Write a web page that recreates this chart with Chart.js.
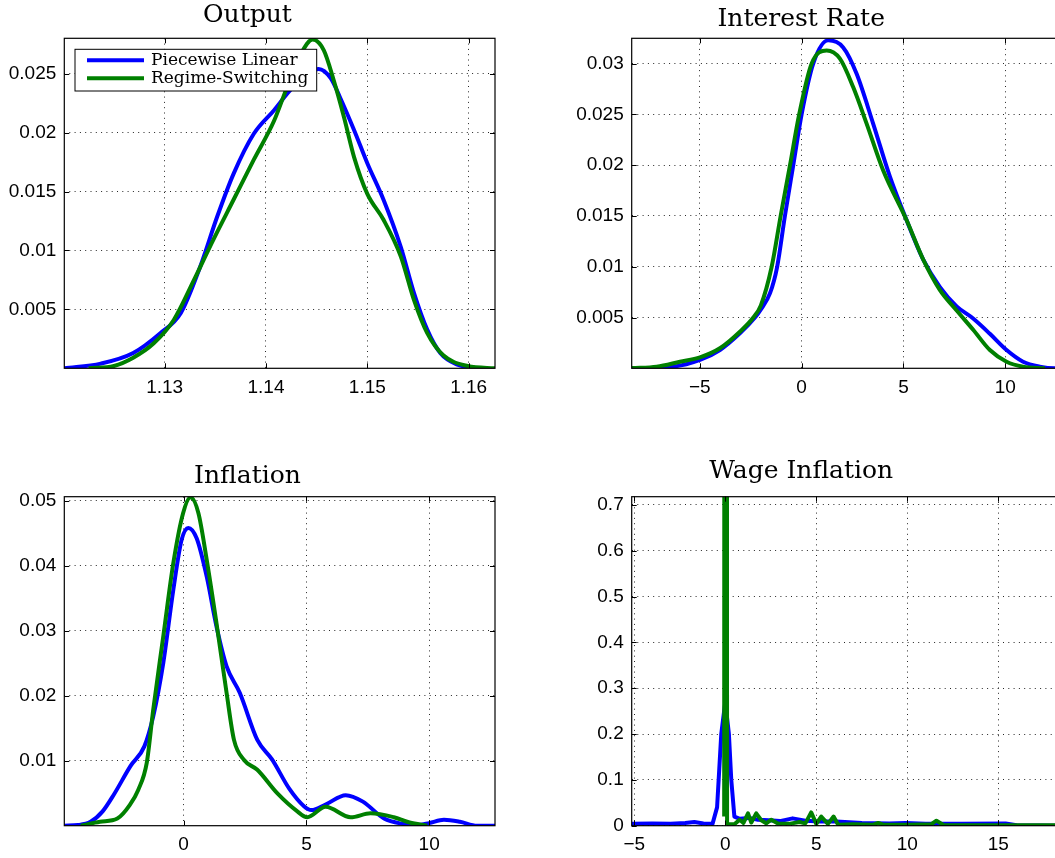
<!DOCTYPE html>
<html>
<head>
<meta charset="utf-8">
<script src="https://cdn.jsdelivr.net/npm/chart.js@4.4.1/dist/chart.umd.min.js"></script>
<style>
  html, body { margin: 0; padding: 0; background: #fff; overflow: hidden; }
  canvas { position: absolute; }
</style>
</head>
<body>
<canvas id="cOutput" width="540" height="429" style="left:0;top:0"></canvas>
<canvas id="cRate" width="540" height="429" style="left:540px;top:0"></canvas>
<canvas id="cInfl" width="540" height="429" style="left:0;top:429px"></canvas>
<canvas id="cWage" width="540" height="429" style="left:540px;top:429px"></canvas>
<script>
// ---- Output ----
const outX_pl = [1.1201, 1.1237, 1.1269, 1.1296, 1.1316, 1.1335, 1.1352, 1.1368, 1.1388, 1.1408, 1.1424, 1.1441, 1.1452, 1.1464, 1.1473, 1.1487, 1.1500, 1.1516, 1.1533, 1.1546, 1.1559, 1.1572, 1.1589, 1.1599];
const outY_pl = [0, 0.0004, 0.0013, 0.0030, 0.0047, 0.0086, 0.0129, 0.0165, 0.0199, 0.0219, 0.0236, 0.0249, 0.0254, 0.0246, 0.0230, 0.0202, 0.0174, 0.0143, 0.0103, 0.0064, 0.0033, 0.0013, 0.0003, 0.0001];
const outX_rs = [1.1225, 1.1250, 1.1269, 1.1289, 1.1309, 1.1329, 1.1348, 1.1368, 1.1388, 1.1408, 1.1421, 1.1434, 1.1446, 1.1457, 1.1467, 1.1477, 1.1487, 1.1500, 1.1516, 1.1533, 1.1546, 1.1559, 1.1575, 1.1599, 1.1627];
const outY_rs = [0, 0.0002, 0.0009, 0.0021, 0.0041, 0.0075, 0.0109, 0.0143, 0.0177, 0.0210, 0.0239, 0.0266, 0.0279, 0.0270, 0.0244, 0.0213, 0.0179, 0.0148, 0.0126, 0.0095, 0.0058, 0.0030, 0.0011, 0.0002, 0];
const outXTicks = [1.13, 1.14, 1.15, 1.16];
const outYTicks = [0.005, 0.01, 0.015, 0.02, 0.025];

// ---- Interest Rate ----
const irX_pl = [-8.34, -6.3, -4.99, -4.01, -3.03, -2.29, -2.0, -1.55, -1.2, -0.82, -0.41, 0.0, 0.57, 1.31, 2.04, 2.7, 3.51, 4.33, 5.15, 5.97, 6.79, 7.61, 8.42, 9.24, 10.06, 10.87, 11.69, 12.43, 12.8];
const irY_pl = [0, 0.00016, 0.00082, 0.0018, 0.00344, 0.005, 0.0058, 0.0074, 0.01, 0.015, 0.02, 0.025, 0.03, 0.0323, 0.0316, 0.029, 0.0241, 0.0189, 0.0146, 0.0107, 0.008, 0.0061, 0.0049, 0.0034, 0.0018, 0.00065, 0.00016, 0, 0];
const irX_rs = [-8.34, -7.11, -5.97, -4.99, -4.01, -3.03, -2.37, -2.0, -1.47, -1.03, -0.57, -0.12, 0.49, 1.23, 1.88, 2.53, 3.19, 4.0, 5.15, 5.97, 6.79, 7.61, 8.42, 9.24, 10.06, 10.87, 11.94];
const irY_rs = [0.00002, 0.00016, 0.00065, 0.00108, 0.00197, 0.0036, 0.005, 0.0062, 0.01, 0.015, 0.02, 0.025, 0.03, 0.0313, 0.0305, 0.0277, 0.0241, 0.0195, 0.0146, 0.0107, 0.0077, 0.0057, 0.0038, 0.0018, 0.00065, 0.00016, 0];
const irXTicks = [-5, 0, 5, 10];
const irYTicks = [0.005, 0.01, 0.015, 0.02, 0.025, 0.03];

// ---- Inflation ----
const infX_pl = [-4.86, -4.3, -3.79, -3.3, -2.84, -2.16, -1.6, -1.24, -0.83, -0.42, -0.08, 0.19, 0.53, 0.94, 1.34, 1.75, 2.29, 3.0, 3.6, 4.3, 4.9, 5.2, 5.8, 6.6, 7.3, 8.16, 8.9, 9.51, 10.0, 10.6, 11.25, 11.95, 12.68];
const infY_pl = [0, 0.0001, 0.0006, 0.0022, 0.0048, 0.0092, 0.0122, 0.0168, 0.025, 0.0363, 0.044, 0.0458, 0.0442, 0.0383, 0.0306, 0.0245, 0.0204, 0.0132, 0.0102, 0.0057, 0.003, 0.0024, 0.0033, 0.0047, 0.0037, 0.0011, 0.0003, 0.0001, 0.0004, 0.0009, 0.0006, 0, 0];
const infX_rs = [-4.19, -3.41, -2.7, -2.19, -1.85, -1.5, -1.24, -0.83, -0.42, -0.02, 0.28, 0.6, 0.94, 1.34, 1.75, 2.05, 2.46, 3.0, 3.81, 4.63, 5.03, 5.78, 6.8, 7.61, 8.56, 9.2, 9.92];
const infY_rs = [0, 0.0006, 0.0011, 0.0032, 0.0055, 0.0097, 0.0178, 0.0291, 0.0404, 0.0481, 0.0505, 0.0481, 0.0409, 0.0311, 0.0204, 0.0132, 0.0101, 0.0086, 0.005, 0.0022, 0.0013, 0.0029, 0.0013, 0.0019, 0.0013, 0.0005, 0];
const infXTicks = [0, 5, 10];
const infYTicks = [0.01, 0.02, 0.03, 0.04, 0.05];

// ---- Wage Inflation ----
const wgX_pl = [-5.14, -4, -3, -2.2, -1.7, -1.2, -0.7, -0.45, -0.22, 0.0, 0.2, 0.33, 0.5, 0.8, 1.3, 1.8, 2.4, 3.0, 3.7, 4.4, 5.2, 6.1, 7.5, 9.0, 9.9, 11, 13, 15.4, 16, 18.6];
const wgY_pl = [0.004, 0.005, 0.004, 0.006, 0.008, 0.005, 0.004, 0.04, 0.2, 0.27, 0.2, 0.1, 0.02, 0.015, 0.017, 0.013, 0.012, 0.01, 0.016, 0.011, 0.009, 0.009, 0.006, 0.005, 0.006, 0.004, 0.004, 0.005, 0.001, 0];
// the green spike runs far off the top of the axes
const wgX_rs = [-0.06, 0.02, 0.1, 0.3, 0.5, 0.79, 1.0, 1.25, 1.43, 1.7, 1.98, 2.25, 2.53, 2.89, 3.5, 4.08, 4.4, 4.72, 5.0, 5.27, 5.64, 5.95, 6.2, 7.0, 8.1, 8.4, 8.7, 10, 11.3, 11.6, 12.0, 14, 16, 18.6];
const wgY_rs = [0.02, 10, 0.004, 0.003, 0.003, 0.013, 0.006, 0.027, 0.007, 0.027, 0.012, 0.005, 0.013, 0.005, 0.004, 0.008, 0.005, 0.029, 0.004, 0.02, 0.004, 0.02, 0.002, 0.003, 0.002, 0.006, 0.002, 0.002, 0.003, 0.011, 0.001, 0.001, 0.001, 0.001];
const wgXTicks = [-5, 0, 5, 10, 15];
const wgYTicks = [0, 0.1, 0.2, 0.3, 0.4, 0.5, 0.6, 0.7];

const seriesNames = ['Piecewise Linear', 'Regime-Switching'];
const seriesColors = ['#0000ff', '#008000'];

Chart.defaults.font.family = '"Liberation Sans", Arial, sans-serif';
Chart.defaults.font.size = 19;
Chart.defaults.color = '#000';

function pts(xs, ys) {
  return xs.map((x, i) => ({ x: x, y: ys[i] }));
}
function fmt(v) {
  return String(v).replace('-', '\u2212');
}

// box, inward tick marks and the inset legend, drawn like the old matlab axes
const matlabFrame = {
  id: 'matlabFrame',
  afterDatasetsDraw(chart, args, opts) {
    const ctx = chart.ctx;
    const a = chart.chartArea;
    const xs = chart.scales.x, ys = chart.scales.y;
    ctx.save();
    ctx.strokeStyle = '#000';
    ctx.lineWidth = 1;
    ctx.beginPath();
    xs.ticks.forEach(t => {
      const px = Math.round(xs.getPixelForValue(t.value)) + 0.5;
      ctx.moveTo(px, a.bottom); ctx.lineTo(px, a.bottom - 5);
      ctx.moveTo(px, a.top); ctx.lineTo(px, a.top + 5);
    });
    ys.ticks.forEach(t => {
      const py = Math.round(ys.getPixelForValue(t.value)) + 0.5;
      ctx.moveTo(a.left, py); ctx.lineTo(a.left + 5, py);
      ctx.moveTo(a.right, py); ctx.lineTo(a.right - 5, py);
    });
    ctx.stroke();
    ctx.lineWidth = 1.2;
    ctx.strokeRect(a.left, a.top, a.right - a.left, a.bottom - a.top);

    if (opts.legend) {
      const bx = a.left + 10.7, by = a.top + 11, bw = 241.7, bh = 41.7;
      ctx.fillStyle = '#fff';
      ctx.fillRect(bx, by, bw, bh);
      ctx.lineWidth = 1;
      ctx.strokeRect(bx, by, bw, bh);
      ctx.font = '17px "DejaVu Serif", serif';
      ctx.textBaseline = 'middle';
      chart.data.datasets.forEach((ds, i) => {
        const ly = by + 11 + i * 18;
        ctx.strokeStyle = ds.borderColor;
        ctx.lineWidth = 4;
        ctx.beginPath();
        ctx.moveTo(bx + 12, ly); ctx.lineTo(bx + 69, ly);
        ctx.stroke();
        ctx.fillStyle = '#000';
        ctx.fillText(ds.label, bx + 76, ly);
      });
    }
    ctx.restore();
  }
};

function makePanel(id, cfg) {
  new Chart(document.getElementById(id), {
    type: 'line',
    data: {
      datasets: [
        { label: seriesNames[0], data: pts(cfg.x1, cfg.y1), borderColor: seriesColors[0], order: 2 },
        { label: seriesNames[1], data: pts(cfg.x2, cfg.y2), borderColor: seriesColors[1], order: 1 }
      ]
    },
    options: {
      responsive: false,
      animation: false,
      elements: {
        point: { radius: 0 },
        line: cfg.straight
          ? { borderWidth: 4, tension: 0, fill: false, borderJoinStyle: 'round' }
          : { borderWidth: 4, cubicInterpolationMode: 'monotone', fill: false }
      },
      layout: { padding: { left: 0, right: cfg.padRight, top: 0, bottom: 0 } },
      plugins: {
        legend: { display: false },
        tooltip: { enabled: false },
        title: {
          display: true,
          text: cfg.title,
          color: '#000',
          font: { family: '"DejaVu Serif", serif', size: 25, weight: 'normal', lineHeight: 1.2 },
          padding: { top: cfg.titleTop, bottom: cfg.titleBottom }
        },
        matlabFrame: { legend: !!cfg.legend }
      },
      scales: {
        x: {
          type: 'linear',
          min: cfg.xMin, max: cfg.xMax,
          afterBuildTicks: s => { s.ticks = cfg.xTicks.map(v => ({ value: v })); },
          afterFit: s => { s.height = cfg.xAxisH; },
          ticks: { padding: 8, maxRotation: 0, autoSkip: false, callback: fmt },
          grid: { drawTicks: false, color: 'rgba(0,0,0,0.85)', lineWidth: 1 },
          border: { display: false, dash: [1, 4.3] }
        },
        y: {
          type: 'linear',
          min: cfg.yMin, max: cfg.yMax,
          afterBuildTicks: s => { s.ticks = cfg.yTicks.map(v => ({ value: v })); },
          afterFit: s => { s.width = cfg.yAxisW; },
          ticks: { padding: 8, autoSkip: false, callback: fmt },
          grid: { drawTicks: false, color: 'rgba(0,0,0,0.85)', lineWidth: 1 },
          border: { display: false, dash: [1, 4.3] }
        }
      }
    },
    plugins: [matlabFrame]
  });
}

makePanel('cOutput', {
  title: 'Output', x1: outX_pl, y1: outY_pl, x2: outX_rs, y2: outY_rs,
  xTicks: outXTicks, yTicks: outYTicks, xMin: 1.1201, xMax: 1.1626, yMin: 0, yMax: 0.028,
  yAxisW: 64.3, xAxisH: 60.7, padRight: 45, titleTop: 0, titleBottom: 8.3, legend: true
});
makePanel('cRate', {
  title: 'Interest Rate', x1: irX_pl, y1: irY_pl, x2: irX_rs, y2: irY_rs,
  xTicks: irXTicks, yTicks: irYTicks, xMin: -8.34, xMax: 12.8, yMin: 0, yMax: 0.0325,
  yAxisW: 91.7, xAxisH: 60.7, padRight: 17.6, titleTop: 4, titleBottom: 4.3
});
makePanel('cInfl', {
  title: 'Inflation', x1: infX_pl, y1: infY_pl, x2: infX_rs, y2: infY_rs,
  xTicks: infXTicks, yTicks: infYTicks, xMin: -4.86, xMax: 12.68, yMin: 0, yMax: 0.0506,
  yAxisW: 64.3, xAxisH: 32.3, padRight: 45, titleTop: 32, titleBottom: 5.7
});
makePanel('cWage', {
  title: 'Wage Inflation', x1: wgX_pl, y1: wgY_pl, x2: wgX_rs, y2: wgY_rs,
  xTicks: wgXTicks, yTicks: wgYTicks, xMin: -5.14, xMax: 18.52, yMin: 0, yMax: 0.718,
  yAxisW: 91.7, xAxisH: 32.3, padRight: 17.6, titleTop: 27.2, titleBottom: 10.5, straight: true
});
</script>
</body>
</html>
